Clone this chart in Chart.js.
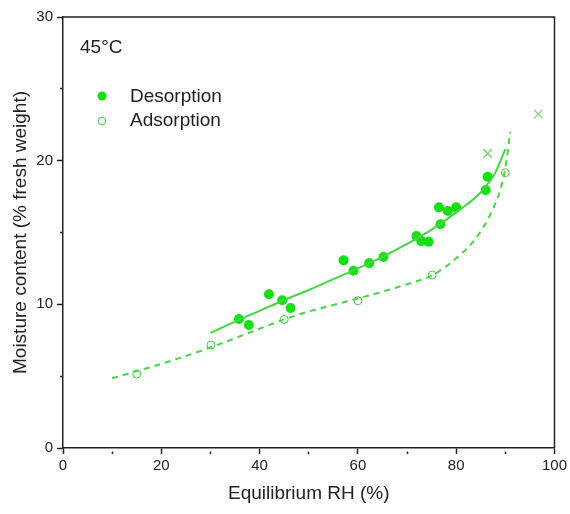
<!DOCTYPE html>
<html>
<head>
<meta charset="utf-8">
<script src="https://cdn.jsdelivr.net/npm/chart.js@4.4.1/dist/chart.umd.min.js"></script>
<style>
  html, body { margin: 0; padding: 0; background: #fff; }
  #wrap { width: 570px; height: 514px; }
</style>
</head>
<body>
<div id="wrap"><canvas id="sorption" width="570" height="514"></canvas></div>
<script>
// measured points
const desRH = [35.8, 37.8, 41.9, 44.6, 46.3, 57.1, 59.1, 62.3, 65.2, 71.9, 72.9, 74.4, 76.5, 76.8, 78.3, 80.0, 86.0, 86.4];
const desMC = [8.98, 8.56, 10.7, 10.28, 9.74, 13.06, 12.34, 12.87, 13.29, 14.75, 14.4, 14.36, 16.75, 15.57, 16.5, 16.75, 17.95, 18.88];
const adsRH = [15.0, 30.1, 45.0, 60.0, 75.1, 90.0];
const adsMC = [5.15, 7.17, 8.95, 10.25, 12.04, 19.16];
const crossRH = [86.4, 96.7];
const crossMC = [20.5, 23.24];

// fitted curves
const desFitRH = [30, 35, 40, 45, 50, 55, 60, 65, 70, 75, 80, 85, 88, 90];
const desFitMC = [8.0, 8.8, 9.55, 10.3, 11.0, 11.75, 12.5, 13.3, 14.2, 15.2, 16.4, 17.8, 19.2, 20.8];
const adsFitRH = [10, 15, 20, 30, 40, 45, 50, 60, 70, 75, 80, 84, 87, 89, 90, 91];
const adsFitMC = [4.85, 5.35, 5.85, 7.0, 8.3, 8.95, 9.5, 10.4, 11.4, 12.0, 13.2, 14.6, 16.3, 18.0, 19.5, 22.0];

const xTicks = [0, 20, 40, 60, 80, 100];
const yTicks = [0, 10, 20, 30];

const greenDot = '#14e014';
const greenLine = '#45d645';
const greenOpen = '#3acc3a';
const greenCross = '#6ccf6c';
const axisColor = '#222';
const fontFamily = '"Liberation Sans", Arial, sans-serif';

const toXY = (xs, ys) => xs.map((x, i) => ({ x: x, y: ys[i] }));

// frame round the plot area + the in-plot legend
const framePlugin = {
    id: 'frame',
    afterDraw(chart) {
        const { ctx, chartArea: a } = chart;
        ctx.save();
        ctx.strokeStyle = axisColor;
        ctx.lineWidth = 1.5;
        ctx.beginPath();
        ctx.moveTo(a.left, a.top);
        ctx.lineTo(a.right, a.top);
        ctx.lineTo(a.right, a.bottom);
        ctx.stroke();

        ctx.fillStyle = axisColor;
        ctx.textBaseline = 'middle';
        ctx.font = '19px ' + fontFamily;
        ctx.fillText('45\u00B0C', 80, 48);

        // legend
        ctx.fillText('Desorption', 130, 97);
        ctx.fillText('Adsorption', 130, 121);
        ctx.beginPath();
        ctx.arc(102, 96, 4.5, 0, Math.PI * 2);
        ctx.fillStyle = greenDot;
        ctx.fill();
        ctx.beginPath();
        ctx.arc(102, 121, 3.8, 0, Math.PI * 2);
        ctx.strokeStyle = greenOpen;
        ctx.lineWidth = 1;
        ctx.stroke();
        ctx.restore();
    }
};

const minorDash = (every) => (c) => (c.tick && c.tick.value % every !== 0 ? [3, 3] : []);

new Chart(document.getElementById('sorption'), {
    type: 'scatter',
    data: {
        datasets: [
            {
                label: 'Desorption fit',
                data: toXY(desFitRH, desFitMC),
                showLine: true,
                borderColor: greenLine,
                borderWidth: 2,
                pointRadius: 0,
                cubicInterpolationMode: 'monotone'
            },
            {
                label: 'Adsorption fit',
                data: toXY(adsFitRH, adsFitMC),
                showLine: true,
                borderColor: greenLine,
                borderWidth: 2,
                borderDash: [6, 5],
                pointRadius: 0,
                cubicInterpolationMode: 'monotone'
            },
            {
                label: 'Desorption',
                data: toXY(desRH, desMC),
                pointRadius: 5,
                backgroundColor: greenDot,
                borderColor: greenDot,
                borderWidth: 0
            },
            {
                label: 'Adsorption',
                data: toXY(adsRH, adsMC),
                pointRadius: 4,
                backgroundColor: 'rgba(255,255,255,0)',
                borderColor: greenOpen,
                borderWidth: 1
            },
            {
                label: 'Extra',
                data: toXY(crossRH, crossMC),
                pointStyle: 'crossRot',
                pointRadius: 6,
                borderColor: greenCross,
                borderWidth: 1.2
            }
        ]
    },
    options: {
        responsive: false,
        devicePixelRatio: 1,
        animation: false,
        layout: { padding: { top: 17, right: 15, left: 0, bottom: 0 } },
        plugins: { legend: { display: false }, tooltip: { enabled: false } },
        scales: {
            x: {
                type: 'linear',
                min: 0,
                max: 100,
                afterFit: (s) => { s.height = 66; },
                ticks: {
                    stepSize: 10,
                    padding: 3,
                    color: axisColor,
                    font: { family: fontFamily, size: 15 },
                    callback: (v) => (xTicks.includes(v) ? v : '')
                },
                grid: {
                    drawOnChartArea: false,
                    tickLength: 6,
                    tickWidth: 1.5,
                    tickColor: axisColor,
                    tickBorderDash: minorDash(20),
                    tickBorderDashOffset: 3
                },
                border: { color: axisColor, width: 1.5 },
                title: {
                    display: true,
                    text: 'Equilibrium RH (%)',
                    color: axisColor,
                    font: { family: fontFamily, size: 19 },
                    padding: { top: 0, bottom: 9 }
                }
            },
            y: {
                type: 'linear',
                min: 0,
                max: 30,
                afterFit: (s) => { s.width = 63; },
                ticks: {
                    stepSize: 5,
                    padding: 4,
                    color: axisColor,
                    font: { family: fontFamily, size: 15 },
                    callback: (v) => (yTicks.includes(v) ? v : '')
                },
                grid: {
                    drawOnChartArea: false,
                    tickLength: 6,
                    tickWidth: 1.5,
                    tickColor: axisColor,
                    tickBorderDash: minorDash(10),
                    tickBorderDashOffset: 3
                },
                border: { color: axisColor, width: 1.5 },
                title: {
                    display: true,
                    text: 'Moisture content (% fresh weight)',
                    color: axisColor,
                    font: { family: fontFamily, size: 19 },
                    padding: { top: 9, bottom: 0 }
                }
            }
        }
    },
    plugins: [framePlugin]
});
</script>
</body>
</html>
